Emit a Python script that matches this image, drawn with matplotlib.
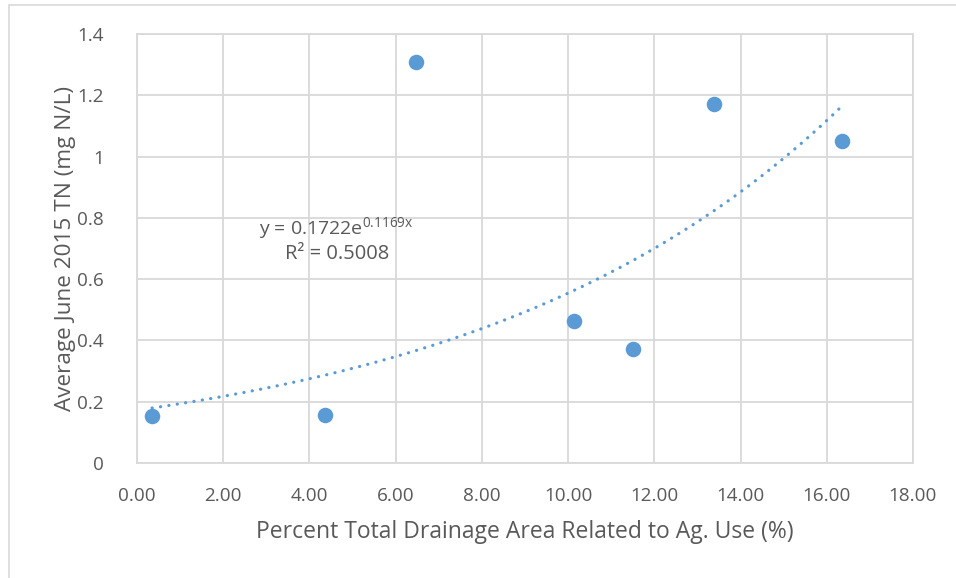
import numpy as np
import matplotlib
matplotlib.use("Agg")
import matplotlib.pyplot as plt
from matplotlib.patches import Rectangle
from matplotlib.ticker import FuncFormatter

# percent of drainage area in agricultural use vs. average June 2015 TN
ag_use_pct = [0.35, 4.37, 6.48, 10.13, 11.50, 13.38, 16.35]
avg_tn = [0.155, 0.158, 1.310, 0.463, 0.373, 1.170, 1.050]

# exponential trendline reported by Excel
trend_a = 0.1722
trend_b = 0.1169
trend_label = "y = 0.1722e$^{0.1169x}$"
r2_label = "R² = 0.5008"

x_ticks = [0, 2, 4, 6, 8, 10, 12, 14, 16, 18]
y_ticks = [0, 0.2, 0.4, 0.6, 0.8, 1.0, 1.2, 1.4]

blue = "#5B9BD5"
grid_col = "#D9D9D9"
text_col = "#595959"

plt.rcParams['font.family'] = ['Open Sans', 'DejaVu Sans']
plt.rcParams['mathtext.default'] = 'regular'

fig = plt.figure(figsize=(9.56, 5.78), dpi=100)
ax = fig.add_axes([137 / 956, 1 - 463 / 578, (913 - 137) / 956, (463 - 34) / 578])

# outer chart border (light grey)
fig.patches.append(Rectangle((9 / 956, -0.1), 1.2, 1 - 5 / 578 + 0.1,
                             transform=fig.transFigure, fill=False,
                             edgecolor=grid_col, linewidth=1.2))

ax.scatter(ag_use_pct, avg_tn, s=125, color=blue, zorder=3, linewidths=0)

xs = np.linspace(min(ag_use_pct), max(ag_use_pct), 200)
ax.plot(xs, trend_a * np.exp(trend_b * xs), color=blue, linewidth=2.3,
        linestyle=(0, (0.05, 2.6)), dash_capstyle='round', zorder=2)

ax.text(4.62, 0.768, trend_label, ha='center', va='center', fontsize=14, color=text_col)
ax.text(4.64, 0.682, r2_label, ha='center', va='center', fontsize=14.5, color=text_col)

ax.set_xlim(0, 18)
ax.set_ylim(0, 1.4)
ax.set_xticks(x_ticks)
ax.set_yticks(y_ticks)
ax.xaxis.set_major_formatter(FuncFormatter(lambda v, p: f"{v:.2f}"))
ax.yaxis.set_major_formatter(FuncFormatter(lambda v, p: f"{v:g}"))
ax.tick_params(length=0, labelsize=13.6, colors=text_col)
ax.tick_params(axis='x', pad=17)
ax.tick_params(axis='y', pad=24)
ax.grid(True, color=grid_col, linewidth=1.3)
ax.set_axisbelow(True)
for sp in ax.spines.values():
    sp.set_color(grid_col)
    sp.set_linewidth(1.3)

ax.set_xlabel("Percent Total Drainage Area Related to Ag. Use (%)", fontsize=16.5,
              color=text_col, labelpad=11)
ax.set_ylabel("Average June 2015 TN (mg N/L)", fontsize=16.2, color=text_col, labelpad=1)

fig.savefig("out.png", dpi=100)
